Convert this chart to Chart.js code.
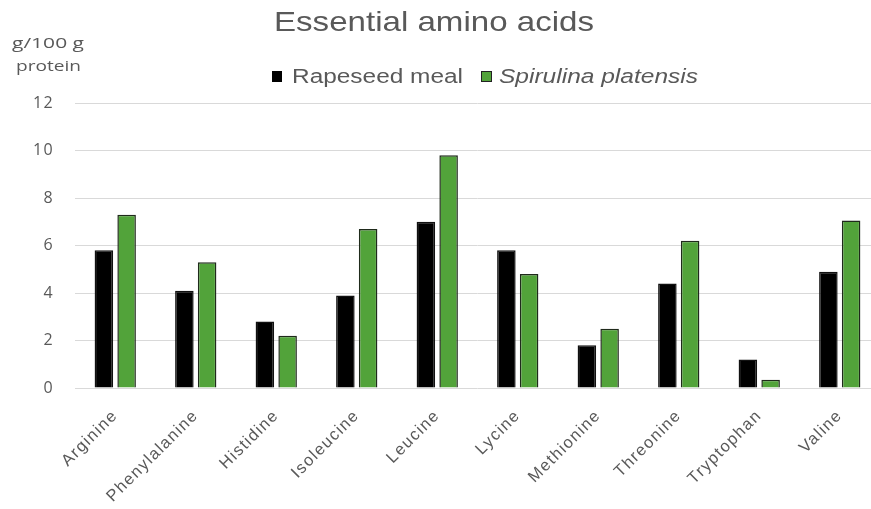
<!DOCTYPE html>
<html>
<head>
<meta charset="utf-8">
<script src="https://cdn.jsdelivr.net/npm/chart.js@4/dist/chart.umd.min.js"></script>
<style>
  body { margin: 0; background: #fff; overflow: hidden; width: 871px; height: 509px; }
  canvas { display: block; }
</style>
</head>
<body>
<canvas id="graphAmino" width="880" height="509"></canvas>
<script>
// datos
var categorias = ['Arginine', 'Phenylalanine', 'Histidine', 'Isoleucine', 'Leucine', 'Lycine', 'Methionine', 'Threonine', 'Tryptophan', 'Valine']
var rapeseed = [5.8, 4.1, 2.8, 3.9, 7.0, 5.8, 1.8, 4.4, 1.2, 4.9]
var spirulina = [7.3, 5.3, 2.2, 6.7, 9.8, 4.8, 2.5, 6.2, 0.35, 7.05]
var ticksY = [0, 2, 4, 6, 8, 10, 12]

var gris = '#595959'
var verde = '#52a33a'
var arial = '"Liberation Sans", Arial, sans-serif'

// espaciado de letras para los ticks (el original esta estirado)
var espaciado = {
  id: 'espaciado',
  beforeUpdate: function (chart) { chart.ctx.letterSpacing = '1.4px' },
  beforeDraw: function (chart) { chart.ctx.letterSpacing = '1.4px' }
}

// texto estirado en horizontal hasta el ancho pedido
function textoAncho(ctx, texto, x, y, ancho) {
  var w = ctx.measureText(texto).width
  ctx.save()
  ctx.translate(x, y)
  ctx.scale(ancho / w, 1)
  ctx.fillText(texto, 0, 0)
  ctx.restore()
}

// titulo, leyenda y unidad dibujados a mano
var textos = {
  id: 'textos',
  afterDraw: function (chart) {
    var ctx = chart.ctx
    ctx.save()
    ctx.letterSpacing = '0px'
    ctx.fillStyle = gris
    ctx.textBaseline = 'middle'
    ctx.textAlign = 'left'
    ctx.font = '28px ' + arial
    textoAncho(ctx, 'Essential amino acids', 274, 23, 320)

    ctx.font = '15px "Open Sans", sans-serif'
    textoAncho(ctx, 'g/100 g', 12, 44, 72)
    textoAncho(ctx, 'protein', 16, 67, 65)

    // leyenda
    ctx.fillStyle = '#000'
    ctx.fillRect(272, 71, 10, 11)
    ctx.fillStyle = verde
    ctx.fillRect(481, 71, 10, 11)
    ctx.strokeStyle = '#222'
    ctx.lineWidth = 1
    ctx.strokeRect(481.5, 71.5, 10, 10)
    ctx.fillStyle = gris
    ctx.font = '20px ' + arial
    textoAncho(ctx, 'Rapeseed meal', 292, 77, 171)
    ctx.font = 'italic 20px ' + arial
    textoAncho(ctx, 'Spirulina platensis', 499, 77, 199)
    ctx.restore()
  }
}

function createChart() {
  const ctx = document.getElementById('graphAmino').getContext('2d');

  const myChart = new Chart(ctx, {
    type: 'bar',
    data: {
      labels: categorias,
      datasets: [{
        label: 'Rapeseed meal',
        data: rapeseed,
        backgroundColor: '#000000',
        borderColor: '#111111',
        borderWidth: 1.5,
        categoryPercentage: 0.565,
        barPercentage: 0.815
      }, {
        label: 'Spirulina platensis',
        data: spirulina,
        backgroundColor: verde,
        borderColor: '#1f2a1b',
        borderWidth: 1.5,
        categoryPercentage: 0.565,
        barPercentage: 0.815
      }]
    },
    options: {
      responsive: false,
      animation: false,
      layout: { padding: { top: 103, right: 0, left: 0, bottom: 0 } },
      plugins: {
        legend: { display: false },
        title: { display: false },
        tooltip: { enabled: false }
      },
      scales: {
        x: {
          grid: { display: false },
          border: { display: false },
          ticks: {
            color: gris,
            font: { size: 16.5, family: arial },
            minRotation: 45,
            maxRotation: 45,
            padding: 10
          },
          afterFit: function (scale) { scale.height = 121 }
        },
        y: {
          min: 0,
          max: 12,
          afterBuildTicks: function (scale) {
            scale.ticks = ticksY.map(function (v) { return { value: v } })
          },
          grid: { color: '#d9d9d9', lineWidth: 1, drawTicks: false },
          border: { display: false },
          ticks: {
            color: gris,
            font: { size: 16, family: '"Open Sans", sans-serif' },
            padding: 21
          },
          afterFit: function (scale) { scale.width = 75 }
        }
      }
    },
    plugins: [espaciado, textos]
  });
}

createChart();
</script>
</body>
</html>
